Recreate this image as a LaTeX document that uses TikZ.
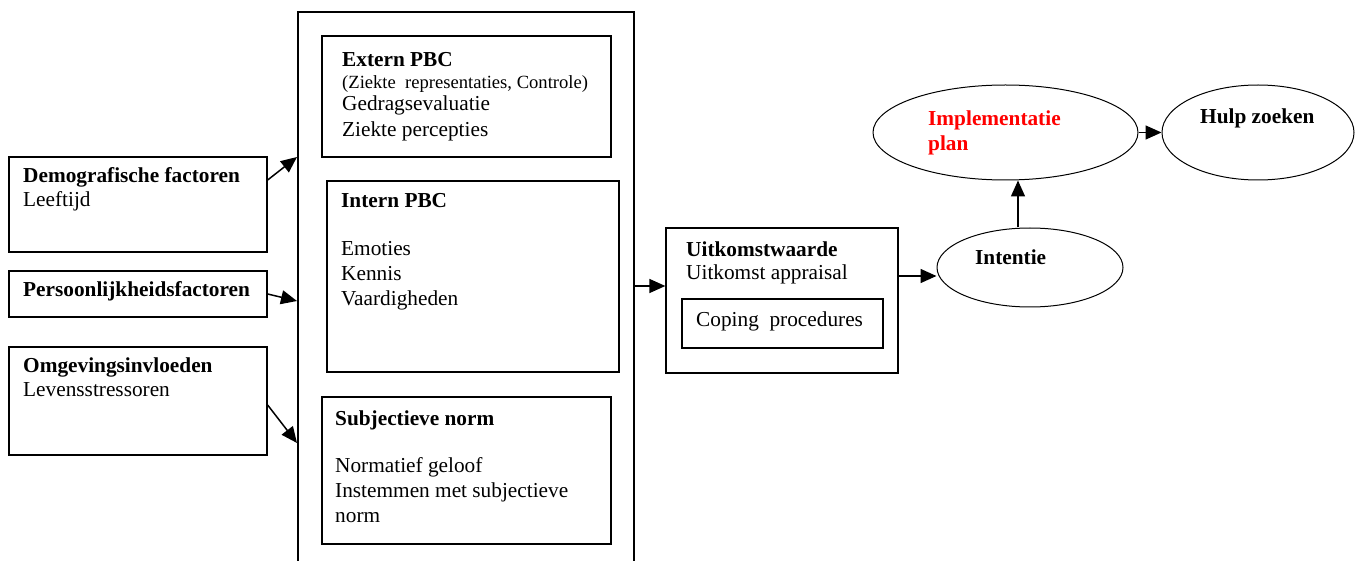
\documentclass[tikz,border=0pt]{standalone}
\usepackage{fontspec}
\setmainfont{Liberation Serif}
\usetikzlibrary{arrows.meta,shapes.geometric}
\begin{document}
\begin{tikzpicture}[x=1pt,y=-1pt,
  box/.style={draw, rectangle, inner sep=0pt, line width=1.3pt},
  bigbox/.style={box, line width=2pt},
  oval/.style={draw, ellipse, inner sep=0pt, line width=1pt},
  lbl/.style={anchor=base west, inner sep=0pt, font=\fontsize{21.3}{25}\selectfont},
  head/.style={lbl, font=\fontsize{21.3}{25}\selectfont\bfseries},
  note/.style={lbl, font=\fontsize{18.6}{22}\selectfont},
  arr/.style={line width=1.5pt, -{Triangle[length=16pt,width=14pt]}}]
\useasboundingbox (0,0) rectangle (1361,561);
\clip (0,0) rectangle (1361,561);

% left-hand factor boxes
\node[box, minimum width=258pt, minimum height=95pt]  (demo) at (138,204.5) {};
\node[box, minimum width=258pt, minimum height=46pt]  (pers) at (138,294) {};
\node[box, minimum width=258pt, minimum height=108pt] (omg)  at (138,401) {};

% central frame with its three components
\node[bigbox, minimum width=336pt, minimum height=588pt] (big) at (466,306) {};
\node[box, minimum width=289pt, minimum height=121pt] (ext)  at (466.5,96.5) {};
\node[box, minimum width=292pt, minimum height=191pt] (int)  at (473,276.5) {};
\node[box, minimum width=289pt, minimum height=147pt] (subj) at (466.5,470.5) {};

% outcome value box
\node[box, minimum width=232pt, minimum height=145pt] (uit)    at (782,300.5) {};
\node[box, minimum width=201pt, minimum height=49pt]  (coping) at (782.5,323.5) {};

% ellipses
\node[oval, minimum width=186pt, minimum height=79pt] (intentie) at (1030,267.5) {};
\node[oval, minimum width=265pt, minimum height=95pt] (impl)     at (1005.5,132.5) {};
\node[oval, minimum width=192pt, minimum height=95pt] (hulp)     at (1258,132.5) {};

% texts
\node[head] (tdemo1) at (23,183) {Demografische factoren};
\node[lbl]  (tdemo2) at (23,207) {Leeftijd};
\node[head] (tpers)  at (23,297) {Persoonlijkheidsfactoren};
\node[head] (tomg1)  at (23,373) {Omgevingsinvloeden};
\node[lbl]  (tomg2)  at (23,397) {Levensstressoren};

\node[head] (text1) at (342,67)  {Extern PBC};
\node[note] (text2) at (342,89)  {(Ziekte\ \ representaties, Controle)};
\node[lbl]  (text3) at (342,111) {Gedragsevaluatie};
\node[lbl]  (text4) at (342,137) {Ziekte percepties};

\node[head] (tint1) at (341,208) {Intern PBC};
\node[lbl]  (tint2) at (341,256) {Emoties};
\node[lbl]  (tint3) at (341,281) {Kennis};
\node[lbl]  (tint4) at (341,306) {Vaardigheden};

\node[head] (tsubj1) at (335,425) {Subjectieve norm};
\node[lbl]  (tsubj2) at (335,472) {Normatief geloof};
\node[lbl]  (tsubj3) at (335,497) {Instemmen met subjectieve};
\node[lbl]  (tsubj4) at (335,522) {norm};

\node[head] (tuit1) at (686,257) {Uitkomstwaarde};
\node[lbl]  (tuit2) at (686,280) {Uitkomst appraisal};
\node[lbl]  (tcop)  at (696,327) {Coping\ \ procedures};

\node[head, text=red] (timpl1) at (928,126) {Implementatie};
\node[head, text=red] (timpl2) at (928,151) {plan};
\node[head] (thulp) at (1200,124) {Hulp zoeken};
\node[head] (tint)  at (975,265)  {Intentie};

% connectors
\draw[arr] (demo.east |- 0,180) -- (big.west |- 0,157);
\draw[arr] (pers.east |- 0,294) -- (big.west |- 0,301);
\draw[arr] (omg.east |- 0,405)  -- (big.west |- 0,443);
\draw[arr] (big.east |- 0,286)  -- (uit.west |- 0,286);
\draw[arr] (uit.east |- 0,276)  -- (intentie.west |- 0,276);
\draw[arr] (intentie.north -| 1018,0) -- (impl.south -| 1018,0);
\draw[arr] (impl.east) -- (hulp.west);
\end{tikzpicture}
\end{document}
